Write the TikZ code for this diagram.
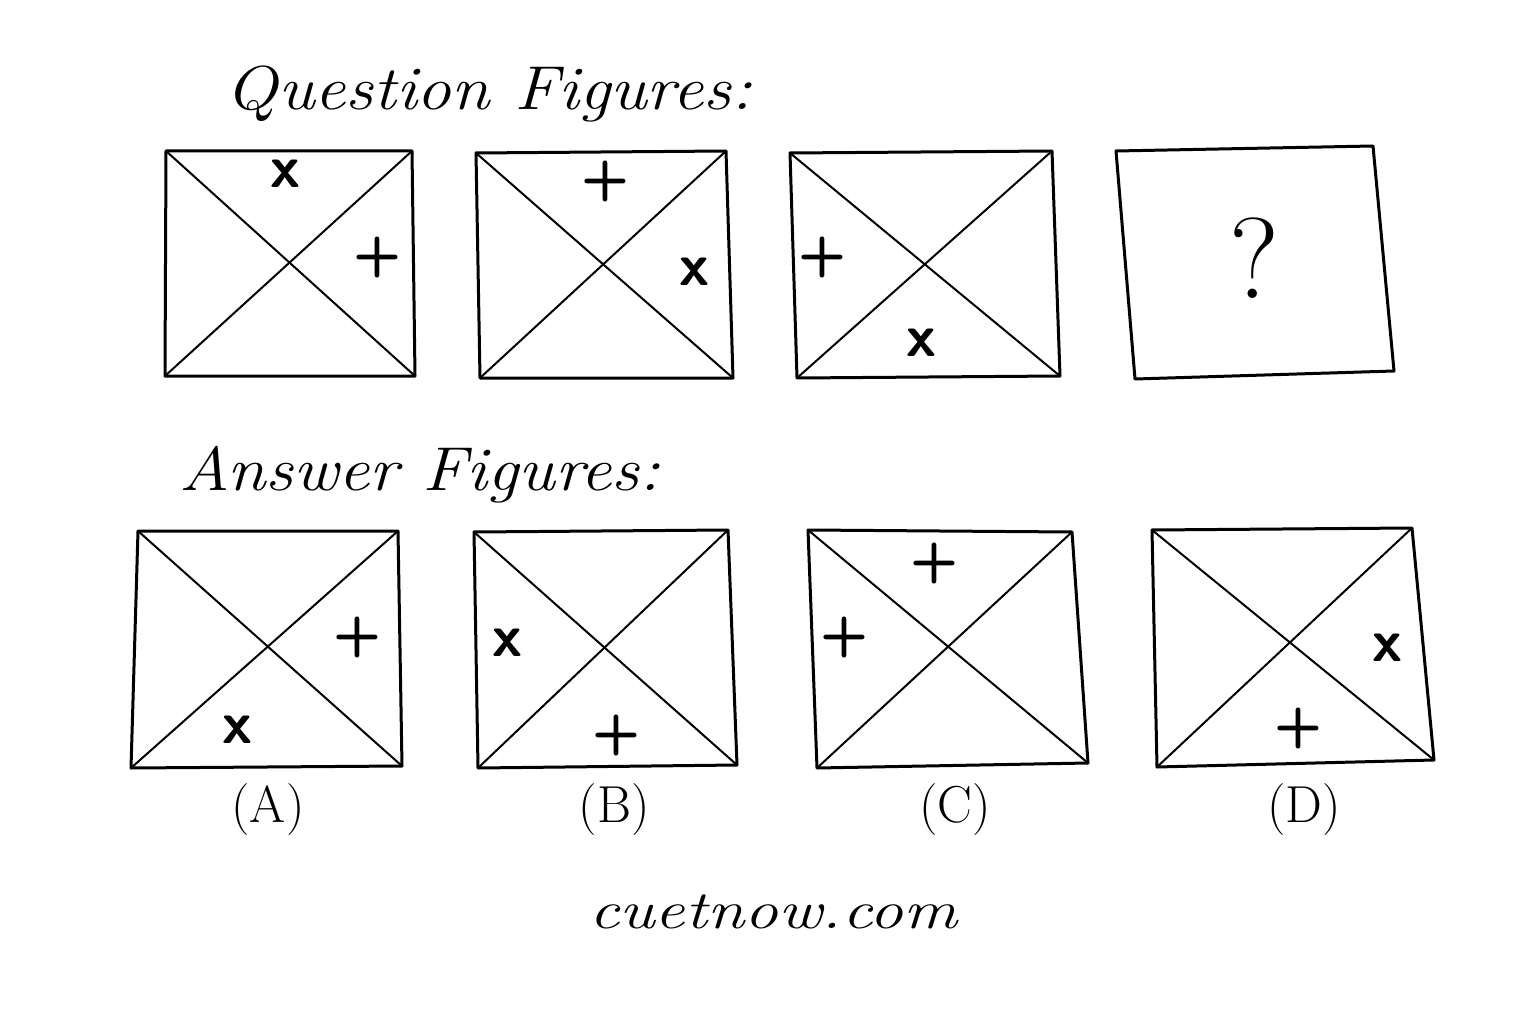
\documentclass[tikz,border=0pt]{standalone}
\usepackage{amsmath}
\usepackage{tikz}

\tikzset{
  frame/.style={line width=3pt,line join=round,line cap=round},
  diag/.style={line width=2pt,line cap=round},
  xmark/.style={font=\fontsize{60}{60}\selectfont\sffamily\bfseries},
  pmark/.style={font=\fontsize{56}{56}\selectfont\sffamily\bfseries},
  heading/.style={font=\fontsize{62}{62}\selectfont\itshape,anchor=base west},
  optlabel/.style={font=\fontsize{52}{52}\selectfont}
}

\begin{document}
\begin{tikzpicture}[x=1pt,y=-1pt]
		\useasboundingbox (0,0) rectangle (1536,1024);

		\node[heading,xscale=1.12] (qtitle) at (222,110) {Question Figures:};
		\node[heading,xscale=1.12] (atitle) at (176,490) {Answer Figures:};

		% question figures
		\draw[frame] (166,151) -- (412,151) -- (415,376) -- (165,376) -- cycle;
		\draw[diag] (166,151) -- (415,376);
		\draw[diag] (412,151) -- (165,376);
		\node[xmark] (q1x) at (285,174) {x};
		\node[pmark] (q1p) at (377,258) {+};

		\draw[frame] (476,153) -- (726,151) -- (733,378) -- (480,378) -- cycle;
		\draw[diag] (476,153) -- (733,378);
		\draw[diag] (726,151) -- (480,378);
		\node[pmark] (q2p) at (605,182) {+};
		\node[xmark] (q2x) at (694,272) {x};

		\draw[frame] (790,153) -- (1052,151) -- (1060,376) -- (797,378) -- cycle;
		\draw[diag] (790,153) -- (1060,376);
		\draw[diag] (1052,151) -- (797,378);
		\node[pmark] (q3p) at (822,258) {+};
		\node[xmark] (q3x) at (921,343) {x};

		\draw[frame] (1116,151) -- (1373,146) -- (1394,371) -- (1135,379) -- cycle;
		\node[font=\fontsize{115}{115}\selectfont] (q4q) at (1254,258) {?};

		% answer figures
		\draw[frame] (138,531) -- (398,531) -- (402,766) -- (131,768) -- cycle;
		\draw[diag] (138,531) -- (402,766);
		\draw[diag] (398,531) -- (131,768);
		\node[pmark] (apA) at (357,637) {+};
		\node[xmark] (axA) at (237,730) {x};
		\node[optlabel] (labA) at (268,810) {(A)};

		\draw[frame] (474,532) -- (728,530) -- (737,765) -- (478,768) -- cycle;
		\draw[diag] (474,532) -- (737,765);
		\draw[diag] (728,530) -- (478,768);
		\node[xmark] (axB) at (507,643) {x};
		\node[pmark] (apB) at (616,735) {+};
		\node[optlabel] (labB) at (614,810) {(B)};

		\draw[frame] (808,530) -- (1072,532) -- (1088,763) -- (817,768) -- cycle;
		\draw[diag] (808,530) -- (1088,763);
		\draw[diag] (1072,532) -- (817,768);
		\node[pmark] (apC) at (934,563) {+};
		\node[pmark] (apC2) at (844,637) {+};
		\node[optlabel] (labC) at (955,810) {(C)};

		\draw[frame] (1152,530) -- (1412,528) -- (1434,760) -- (1157,767) -- cycle;
		\draw[diag] (1152,530) -- (1434,760);
		\draw[diag] (1412,528) -- (1157,767);
		\node[xmark] (axD) at (1387,648) {x};
		\node[pmark] (apD) at (1298,728) {+};
		\node[optlabel] (labD) at (1304,810) {(D)};

		\node[font=\fontsize{54}{54}\selectfont\itshape,xscale=1.25] (site) at (773,912) {cuetnow.com};

	\end{tikzpicture}
\end{document}
